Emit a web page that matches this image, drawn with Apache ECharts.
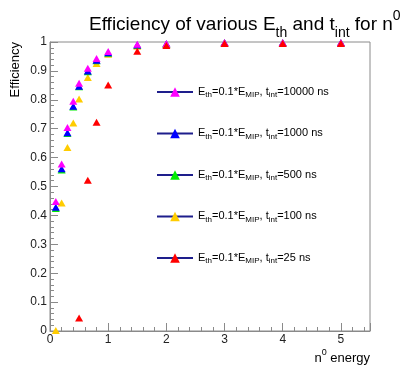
<!DOCTYPE html>
<html><head><meta charset="utf-8">
<script src="https://cdn.jsdelivr.net/npm/echarts@6/dist/echarts.min.js"></script>
<style>html,body{margin:0;padding:0;background:#fff;}#c{width:407px;height:365px;}</style>
</head><body><div id="c"></div>
<script>
const energies = [0.1, 0.2, 0.3, 0.4, 0.5, 0.65, 0.8, 1, 1.5, 2, 3, 4, 5];
const eff10000 = [0.448, 0.578, 0.704, 0.795, 0.857, 0.909, 0.943, 0.967, 0.992, 0.995, 0.998, 0.998, 0.998];
const eff1000  = [0.428, 0.561, 0.686, 0.778, 0.847, 0.900, 0.937, 0.963, 0.990, 0.994, 0.997, 0.997, 0.997];
const eff500   = [0.424, 0.557, 0.683, 0.775, 0.845, 0.897, 0.935, 0.961, 0.989, 0.993, 0.997, 0.997, 0.997];
const eff100   = [0.002, 0.443, 0.635, 0.720, 0.803, 0.877, 0.926, 0.958, 0.985, 0.992, 0.997, 0.997, 0.997];
const eff25    = [null, null, null, null, 0.045, 0.522, 0.722, 0.851, 0.968, 0.988, 0.995, 0.995, 0.995];
const tintLabels = ['10000', '1000', '500', '100', '25'];
const yTicks = [0, 0.1, 0.2, 0.3, 0.4, 0.5, 0.6, 0.7, 0.8, 0.9, 1];

const FONT = 'Liberation Sans';
const colors = {'10000': '#ff00ff', '1000': '#0000ff', '500': '#00ee00', '100': '#ffcc00', '25': '#ff0000'};
const dataMap = {'10000': eff10000, '1000': eff1000, '500': eff500, '100': eff100, '25': eff25};
const drawOrder = ['100', '500', '1000', '10000', '25'];

function pairs(ys) { return energies.map((x, i) => [x, ys[i]]); }

const series = drawOrder.map(t => ({
  name: t, type: 'line', data: pairs(dataMap[t]),
  symbol: 'triangle', symbolSize: [8, 7], showSymbol: true, showAllSymbol: true,
  connectNulls: false,
  itemStyle: {color: colors[t], opacity: 1},
  lineStyle: {opacity: 0, width: 0},
  emphasis: {disabled: true}, animation: false
}));

const legendTops = [81, 122.5, 164, 205.5, 247];
const legends = tintLabels.map((t, i) => ({
  data: [t], left: 151, top: legendTops[i], orient: 'vertical',
  itemWidth: 36, itemHeight: 12, itemGap: 0, selectedMode: false,
  lineStyle: {color: '#1e1e8c', width: 2, opacity: 1},
  formatter: n => '{n|E}{s|th}{n|=0.1*E}{s|MIP}{n|, t}{s|int}{n|=' + n + ' ns}',
  textStyle: {
    fontFamily: FONT, color: '#000',
    rich: {
      n: {fontFamily: FONT, fontSize: 11, color: '#000', lineHeight: 12, verticalAlign: 'top'},
      s: {fontFamily: FONT, fontSize: 8, color: '#000', lineHeight: 8, padding: [5, 0, 0, 0], verticalAlign: 'top'}
    }
  }
}));

const chart = echarts.init(document.getElementById('c'), null, {renderer: 'canvas'});
chart.setOption({
  animation: false,
  backgroundColor: '#fff',
  title: {
    text: '{n|Efficiency of various E}{s|th}{n| and t}{s|int}{n| for n}{p|0}',
    left: 84, top: 4,
    textStyle: {
      fontWeight: 'normal',
      rich: {
        n: {fontFamily: FONT, fontSize: 19, fontWeight: 'normal', color: '#000', lineHeight: 22, padding: [6, 0, 0, 0], verticalAlign: 'top'},
        s: {fontFamily: FONT, fontSize: 14, fontWeight: 'normal', color: '#000', lineHeight: 14, padding: [17, 0, 0, 0], verticalAlign: 'top'},
        p: {fontFamily: FONT, fontSize: 14, fontWeight: 'normal', color: '#000', lineHeight: 14, padding: [0, 0, 0, 0], verticalAlign: 'top'}
      }
    }
  },
  legend: legends,
  grid: {left: 50, right: 37, top: 42, bottom: 30, show: true, borderColor: '#8a8a8a', borderWidth: 1, backgroundColor: 'transparent'},
  xAxis: {
    type: 'value', min: 0, max: 5.5, interval: 1,
    name: '{n|n}{p|0}{n| energy}', nameLocation: 'end', nameGap: 0,
    nameTextStyle: {
      align: 'right', verticalAlign: 'top', padding: [17, 0, 0, 0],
      rich: {
        n: {fontFamily: FONT, fontSize: 13, color: '#000', lineHeight: 14, padding: [4, 0, 0, 0], verticalAlign: 'top'},
        p: {fontFamily: FONT, fontSize: 9, color: '#000', lineHeight: 9, verticalAlign: 'top'}
      }
    },
    axisLine: {show: true, lineStyle: {color: '#8a8a8a', width: 1}},
    axisTick: {show: true, inside: true, length: 8, lineStyle: {color: '#8a8a8a'}},
    minorTick: {show: true, splitNumber: 5, length: 4, lineStyle: {color: '#8a8a8a'}},
    axisLabel: {showMaxLabel: false, fontFamily: FONT, fontSize: 12, color: '#222', margin: 3},
    splitLine: {show: false}
  },
  yAxis: {
    type: 'value', min: 0, max: 1, interval: 0.1,
    axisLine: {show: true, lineStyle: {color: '#8a8a8a', width: 1}},
    axisTick: {show: true, inside: true, length: 8, lineStyle: {color: '#8a8a8a'}},
    minorTick: {show: true, splitNumber: 5, length: 4, lineStyle: {color: '#8a8a8a'}},
    axisLabel: {fontFamily: FONT, fontSize: 12, color: '#222', margin: 3,
      formatter: v => { const m = yTicks.find(t => Math.abs(t - v) < 1e-9); return m === undefined ? '' : String(m); }},
    splitLine: {show: false}
  },
  graphic: [{
    type: 'text', x: 15, y: 42, rotation: Math.PI / 2,
    style: {text: 'Efficiency', fontFamily: FONT, fontSize: 13, fill: '#000', align: 'right', verticalAlign: 'middle'}
  }],
  series: series
});
</script></body></html>
